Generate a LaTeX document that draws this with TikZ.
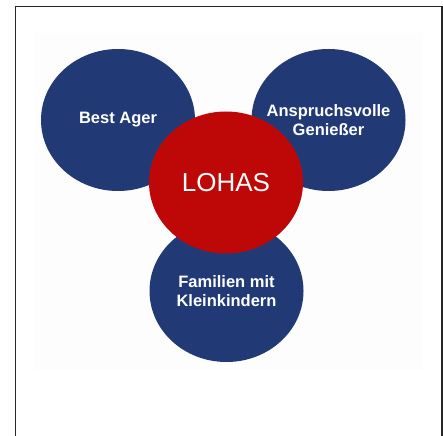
\documentclass[tikz,border=0pt]{standalone}
\usepackage{fontspec}
\setmainfont{Liberation Sans}
\usetikzlibrary{shapes.geometric}

\definecolor{lohasblue}{RGB}{33,58,117}
\definecolor{lohasred}{RGB}{190,8,8}
\definecolor{paneback}{RGB}{253,253,253}

\begin{document}
\begin{tikzpicture}[x=1pt,y=-1pt,
  group/.style={ellipse,fill=lohasblue,text=white,inner sep=0pt,inner xsep=-12pt,
    minimum width=154pt,minimum height=142pt,align=center,
    font=\bfseries\fontsize{16.5}{19}\selectfont},
  core/.style={group,fill=lohasred,font=\fontsize{26}{30}\selectfont}]
  \useasboundingbox (0,0) rectangle (443,435);
  \fill[paneback] (35,33) rectangle (423,370);
  \draw[line width=1.5pt,black!85] (15.5,436) -- (15.5,6.5) -- (442,6.5) -- (442,436);

  \node[group] (ager)   at (118,120)   {Best Ager};
  \node[group] (geniess) at (328.5,120) {Anspruchsvolle\\Genießer};
  \node[group] (family) at (226.5,291) {Familien mit\\Kleinkindern};
  \node[core]  (lohas)  at (226,182.5) {LOHAS};
\end{tikzpicture}
\end{document}
